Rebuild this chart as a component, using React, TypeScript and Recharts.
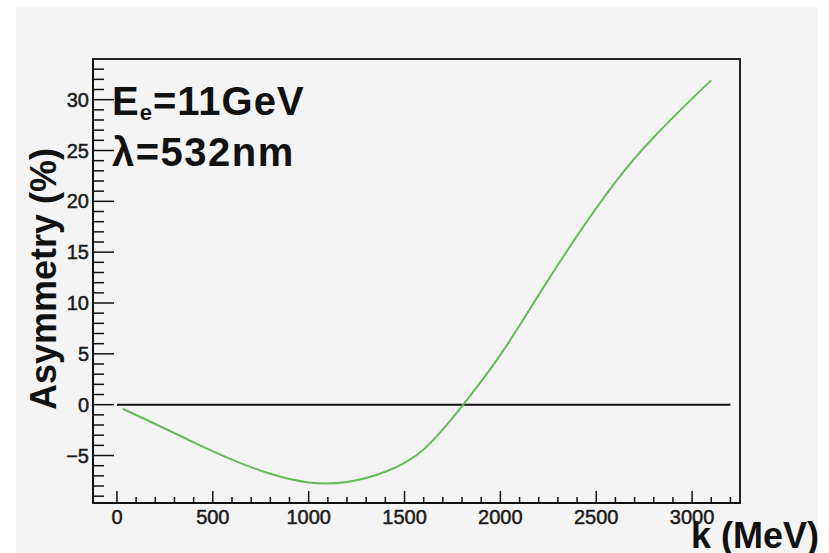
import React from 'react';
import { LineChart, Line, XAxis, YAxis, ReferenceLine, ReferenceArea } from 'recharts';

// photon energy k (MeV) and asymmetry (%)
const kValues = [30, 200, 400, 600, 800, 1000, 1200, 1400, 1600, 1800, 2000, 2200, 2400, 2600, 2800, 3000, 3100];
const asymmetry = [-0.4, -1.9, -3.7, -5.4, -6.8, -7.65, -7.6, -6.6, -4.4, -0.15, 4.9, 10.8, 16.6, 21.9, 26.3, 30.1, 31.9];

const xMajorTicks = [0, 500, 1000, 1500, 2000, 2500, 3000];
const yMajorTicks = [-5, 0, 5, 10, 15, 20, 25, 30];
const xTicks = Array.from({ length: 33 }, (_, i) => i * 100);
const yTicks = Array.from({ length: 43 }, (_, i) => i - 9);

const X_DOMAIN: [number, number] = [-125, 3250];
const Y_DOMAIN: [number, number] = [-9.67, 34];

const data = kValues.map((k, i) => ({ k, asym: asymmetry[i] }));

const FONT = '"Liberation Sans", Arial, sans-serif';

const XTick = (props: any) => {
  const { x, y, payload } = props;
  const major = xMajorTicks.includes(payload.value);
  return (
    <g>
      <line x1={x} x2={x} y1={y} y2={y - (major ? 12 : 6)} stroke="#111" strokeWidth={1.5} />
      {major && (
        <text x={x} y={y + 21} textAnchor="middle" fontSize={20} fontFamily={FONT} fill="#1b1b1b" stroke="#1b1b1b" strokeWidth={0.5}>
          {payload.value}
        </text>
      )}
    </g>
  );
};

const YTick = (props: any) => {
  const { x, y, payload } = props;
  const major = yMajorTicks.includes(payload.value);
  return (
    <g>
      <line x1={x} x2={x + (major ? 21 : 11)} y1={y} y2={y} stroke="#111" strokeWidth={1.5} />
      {major && (
        <text x={x - 4} y={y + 7} textAnchor="end" fontSize={20} fontFamily={FONT} fill="#1b1b1b" stroke="#1b1b1b" strokeWidth={0.5}>
          {payload.value < 0 ? '\u2212' + Math.abs(payload.value) : payload.value}
        </text>
      )}
    </g>
  );
};

export default function App() {
  return (
    <div style={{ position: 'absolute', left: 0, top: 0, width: 829, height: 553, background: '#fff', overflow: 'hidden' }}>
      <div style={{ position: 'absolute', left: 16, top: 7, width: 802, height: 546, background: '#f4f4f4' }} />
      <div style={{ position: 'absolute', left: 0, top: 0 }}>
        <LineChart width={829} height={553} data={data} margin={{ top: 59, right: 89, bottom: 49, left: 92 }}>
          <XAxis
            dataKey="k"
            type="number"
            domain={X_DOMAIN}
            ticks={xTicks}
            interval={0}
            height={1}
            tickSize={0}
            tickMargin={0}
            tick={XTick}
            axisLine={{ stroke: '#111', strokeWidth: 2 }}
            allowDataOverflow
          />
          <YAxis
            type="number"
            domain={Y_DOMAIN}
            ticks={yTicks}
            interval={0}
            width={1}
            tickSize={0}
            tickMargin={0}
            tick={YTick}
            axisLine={{ stroke: '#111', strokeWidth: 2 }}
            allowDataOverflow
          />
          <ReferenceArea x1={X_DOMAIN[0]} x2={X_DOMAIN[1]} y1={Y_DOMAIN[0]} y2={Y_DOMAIN[1]} fill="none" stroke="#222" strokeWidth={2} />
          <ReferenceLine segment={[{ x: 0, y: 0 }, { x: 3200, y: 0 }]} stroke="#111" strokeWidth={2} />
          <Line type="natural" dataKey="asym" stroke="#62bd55" strokeWidth={2} dot={false} isAnimationActive={false} />
        </LineChart>
      </div>
      <svg width={829} height={553} style={{ position: 'absolute', left: 0, top: 0, pointerEvents: 'none' }}>
        <text x={112} y={115} fontFamily={FONT} fontWeight="bold" fontSize={40} letterSpacing={1} fill="#111">
          E<tspan fontSize={22} dy={5}>e</tspan>
          <tspan dy={-5}>=11GeV</tspan>
        </text>
        <text x={112} y={166} fontFamily={FONT} fontWeight="bold" fontSize={40} letterSpacing={1.5} fill="#111">
          λ=532nm
        </text>
        <text transform="translate(56,279) rotate(-90)" textAnchor="middle" fontFamily={FONT} fontWeight="bold" fontSize={36} fill="#111">
          Asymmetry (%)
        </text>
        <text x={819} y={548} textAnchor="end" fontFamily={FONT} fontWeight="bold" fontSize={36} fill="#111">
          k (MeV)
        </text>
      </svg>
    </div>
  );
}
